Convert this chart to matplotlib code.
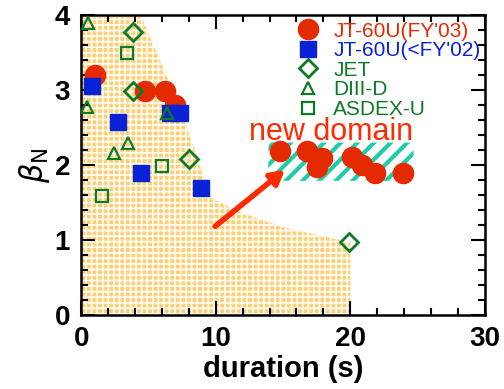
import numpy as np
import matplotlib.pyplot as plt
from matplotlib.patches import Polygon, FancyBboxPatch
from matplotlib.ticker import MultipleLocator

plt.rcParams["font.family"] = ["Liberation Sans", "DejaVu Sans"]

# data
jt03_x = [1.0, 4.75, 6.2, 7.0, 14.8, 16.8, 17.9, 17.5, 20.1, 20.9, 21.8, 23.9]
jt03_y = [3.2, 2.99, 2.99, 2.8, 2.19, 2.19, 2.09, 1.98, 2.11, 2.0, 1.9, 1.9]
jt02_x = [0.8, 2.75, 6.6, 7.35, 4.45, 8.9]
jt02_y = [3.05, 2.58, 2.7, 2.7, 1.9, 1.69]
jet_x = [3.85, 3.85, 8.0, 19.9]
jet_y = [3.78, 2.99, 2.08, 0.97]
d3d_x = [0.5, 0.45, 6.4, 3.5, 2.45]
d3d_y = [3.89, 2.78, 2.69, 2.29, 2.16]
aug_x = [3.4, 6.0, 1.55]
aug_y = [3.5, 1.99, 1.59]

# boundary of the previously reached region
region_x = [0, 0, 4.5, 7.1, 9.7, 12.0, 15.0, 20.0, 20.0]
region_y = [0, 3.97, 3.97, 2.87, 1.55, 1.36, 1.17, 0.97, 0]

red = "#e62a00"
blue = "#0a22d6"
green = "#0d7a26"

fig = plt.figure(figsize=(5.04, 3.89), dpi=100)
ax = fig.add_axes([0.161, 0.19, 0.801, 0.7714])

old = Polygon(np.column_stack([region_x, region_y]), closed=True,
              facecolor="#ffcf70", edgecolor="white", hatch="+++",
              linewidth=0, zorder=1)
old.set_hatch_linewidth(1.2)
ax.add_patch(old)

box = FancyBboxPatch((13.9, 1.79), 10.8, 0.51,
                     boxstyle="round,pad=0,rounding_size=0.15",
                     facecolor="white", edgecolor="#1fcca8",
                     hatch="//", linewidth=0, zorder=1)
box.set_hatch_linewidth(3.0)
ax.add_patch(box)

ax.annotate("", xy=(15.3, 1.96), xytext=(9.8, 1.16),
            arrowprops=dict(arrowstyle="-|>,head_length=0.8,head_width=0.45",
                            color="#ff2a00", lw=4), zorder=3)
ax.text(18.6, 2.33, "new domain", color="#ff2a00", fontsize=22,
        ha="center", va="baseline", zorder=4)

ax.plot(jt03_x, jt03_y, "o", color=red, markersize=14.5, linestyle="none",
        label="JT-60U(FY'03)", zorder=5)
ax.plot(jt02_x, jt02_y, "s", color=blue, markersize=11.5, linestyle="none",
        label="JT-60U(<FY'02)", zorder=5)
ax.plot(jet_x, jet_y, "D", mfc="none", mec=green, mew=2, markersize=9,
        linestyle="none", label="JET", zorder=5)
ax.plot(d3d_x, d3d_y, "^", mfc="none", mec=green, mew=1.6, markersize=8,
        linestyle="none", label="DIII-D", zorder=5)
ax.plot(aug_x, aug_y, "s", mfc="none", mec=green, mew=1.6, markersize=8.5,
        linestyle="none", label="ASDEX-U", zorder=5)

leg = ax.legend(loc="upper right", bbox_to_anchor=(1.02, 1.02), frameon=False,
                fontsize=15, labelspacing=0.03, handletextpad=0.4,
                borderaxespad=0.2, handlelength=1.6,
                labelcolor=[red, blue, green, green, green])
leg.set_zorder(6)

ax.set_xlim(0, 30)
ax.set_ylim(0, 4)
ax.xaxis.set_major_locator(MultipleLocator(10))
ax.xaxis.set_minor_locator(MultipleLocator(2))
ax.yaxis.set_major_locator(MultipleLocator(1))
ax.yaxis.set_minor_locator(MultipleLocator(0.2))
ax.tick_params(which="both", direction="in", top=True, right=True, width=1.5)
ax.tick_params(which="major", length=10, labelsize=20, pad=8)
ax.tick_params(which="minor", length=5)
for lab in ax.get_xticklabels() + ax.get_yticklabels():
    lab.set_fontweight("bold")
for sp in ax.spines.values():
    sp.set_linewidth(1.8)

ax.set_xlabel("duration (s)", fontsize=21, fontweight="bold", labelpad=2)
ax.set_ylabel(r"$\beta_\mathrm{N}$", fontsize=22, labelpad=2)

fig.savefig("out.png", dpi=100)
